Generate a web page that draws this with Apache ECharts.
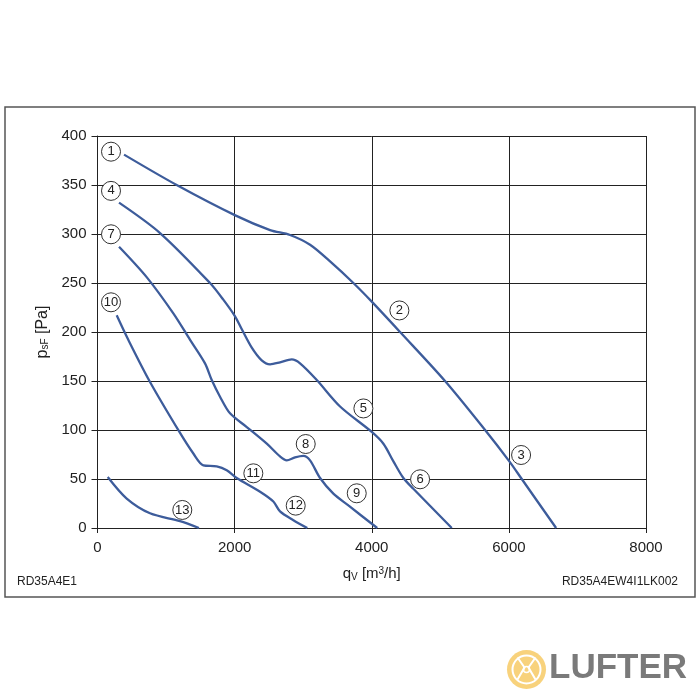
<!DOCTYPE html>
<html>
<head>
<meta charset="utf-8">
<script src="https://cdn.jsdelivr.net/npm/echarts@6/dist/echarts.min.js"></script>
<style>
html,body{margin:0;padding:0;background:#fff;}
#c{width:700px;height:700px;}
</style>
</head>
<body>
<div id="c"></div>
<script>
// Curves [q_V (m3/h), p_sF (Pa)]
const curve1to3 = [[387,381],[1155,350],[2010,319],[2517,304],[2808,299],[3100,289],[3392,272],[3732,250],[4000,231],[4413,200],[5069,150],[5653,100],[6007,68],[6188,50],[6689,0]];
const curve4to6 = [[314,332],[912,301],[1641,250],[1835,233],[2006,216],[2103,203],[2250,184],[2395,171],[2517,167],[2662,169],[2833,172],[2954,168],[3198,151],[3538,124],[4000,98],[4170,86],[4316,68],[4461,51],[4607,40],[5167,0]];
const curve7to9 = [[314,287],[717,256],[1106,219],[1350,192],[1568,168],[1666,151],[1787,134],[1933,117],[2177,103],[2469,86],[2662,73],[2760,69],[2881,72],[3003,73.5],[3100,69],[3246,51],[3440,35],[3659,23],[4080,0]];
const curve10to12 = [[280,217],[449,192],[766,149],[1204,97],[1398,76],[1544,64],[1739,63],[1885,59],[2031,51],[2371,37],[2565,27],[2662,17],[2857,8],[3060,0]];
const curve13 = [[149,52],[426,30],[766,15],[1204,7],[1480,0]];

// Operating point markers
const markerLabels = ['1','2','3','4','5','6','7','8','9','10','11','12','13'];
const markerX = [197,4403,6178,197,3878,4705,197,3037,3781,197,2273,2891,1237];
const markerY = [384,222,74.5,344,122,49.7,299.7,85.7,35.4,230.3,55.8,22.8,18.4];

const xTicks = [0,2000,4000,6000,8000];
const yTicks = [0,50,100,150,200,250,300,350,400];

const lineColor = '#3d5c9b';
const ink = '#222';
const font = 'Liberation Sans, Arial, sans-serif';

const chart = echarts.init(document.getElementById('c'), null, {renderer:'canvas'});

function curveSeries(data){
  return {type:'line', data:data, smooth:0.3, symbol:'none',
    lineStyle:{color:lineColor, width:2.3}, z:3, animation:false};
}

const markerData = markerLabels.map((l,i)=>({name:l, value:[markerX[i], markerY[i]]}));

const option = {
  animation:false,
  backgroundColor:'#fff',
  textStyle:{fontFamily:font},
  grid:{left:97.5, right:54, top:136, bottom:172, containLabel:false},
  xAxis:{
    type:'value', min:xTicks[0], max:xTicks[xTicks.length-1], interval:2000,
    axisLine:{show:true, onZero:false, lineStyle:{color:ink, width:1}},
    axisTick:{show:true, length:5, lineStyle:{color:ink}},
    axisLabel:{color:ink, fontSize:15, margin:12, fontFamily:font, formatter:v=>String(v)},
    splitLine:{show:true, lineStyle:{color:ink, width:1}},
    name:'q{sub|V} [m{sup|3}/h]', nameLocation:'middle', nameGap:38,
    nameTextStyle:{color:ink, fontSize:15, fontFamily:font,
      rich:{sub:{fontSize:10, verticalAlign:'bottom', padding:[6,0,0,0], color:ink},
            sup:{fontSize:10, verticalAlign:'top', padding:[0,0,6,0], color:ink}}}
  },
  yAxis:{
    type:'value', min:yTicks[0], max:yTicks[yTicks.length-1], interval:50,
    axisLine:{show:true, lineStyle:{color:ink, width:1}},
    axisTick:{show:true, length:6, lineStyle:{color:ink}},
    axisLabel:{color:ink, fontSize:15, margin:11, fontFamily:font, formatter:v=>String(v)},
    splitLine:{show:true, lineStyle:{color:ink, width:1}},
    name:'p{sub|sF} [Pa]', nameLocation:'middle', nameGap:46, nameRotate:90,
    nameTextStyle:{color:ink, fontSize:16, fontFamily:font,
      rich:{sub:{fontSize:10, verticalAlign:'bottom', padding:[6,0,0,0], color:ink}}}
  },
  series:[
    curveSeries(curve1to3),
    curveSeries(curve4to6),
    curveSeries(curve7to9),
    curveSeries(curve10to12),
    curveSeries(curve13),
    {type:'scatter', data:markerData, symbol:'circle', symbolSize:19, z:5,
      itemStyle:{color:'#fff', borderColor:'#333', borderWidth:1, opacity:1},
      label:{show:true, position:'inside', formatter:'{b}', color:ink, fontSize:13, fontFamily:font},
      emphasis:{disabled:true}, animation:false, clip:false}
  ],
  graphic:[
    {type:'rect', shape:{x:5, y:107, width:690, height:490}, style:{fill:'none', stroke:'#555', lineWidth:1.5}, z:-1},
    {type:'text', left:17, top:576, style:{text:'RD35A4E1', fill:ink, fontSize:12, fontFamily:font}},
    {type:'text', right:22, top:576, style:{text:'RD35A4EW4I1LK002', fill:ink, fontSize:12, fontFamily:font}},
    {type:'group', left:507, top:650, children:[
      {type:'circle', shape:{cx:19, cy:20, r:19.5}, style:{fill:'#f8d27c'}},
      {type:'circle', shape:{cx:19, cy:20, r:14}, style:{fill:'none', stroke:'#fff', lineWidth:2}},
      {type:'circle', shape:{cx:19, cy:20, r:3}, style:{fill:'none', stroke:'#fff', lineWidth:1.5}},
      {type:'polyline', shape:{points:[[10,8],[17,18],[10,30]]}, style:{fill:'none', stroke:'#fff', lineWidth:2}},
      {type:'polyline', shape:{points:[[28,8],[21,18],[28,30]]}, style:{fill:'none', stroke:'#fff', lineWidth:2}}
    ]},
    {type:'text', left:549, top:651, style:{text:'LUFTER', fill:'#7a7a7a', fontSize:35, fontWeight:'bold', fontFamily:font}}
  ]
};
chart.setOption(option);
</script>
</body>
</html>
